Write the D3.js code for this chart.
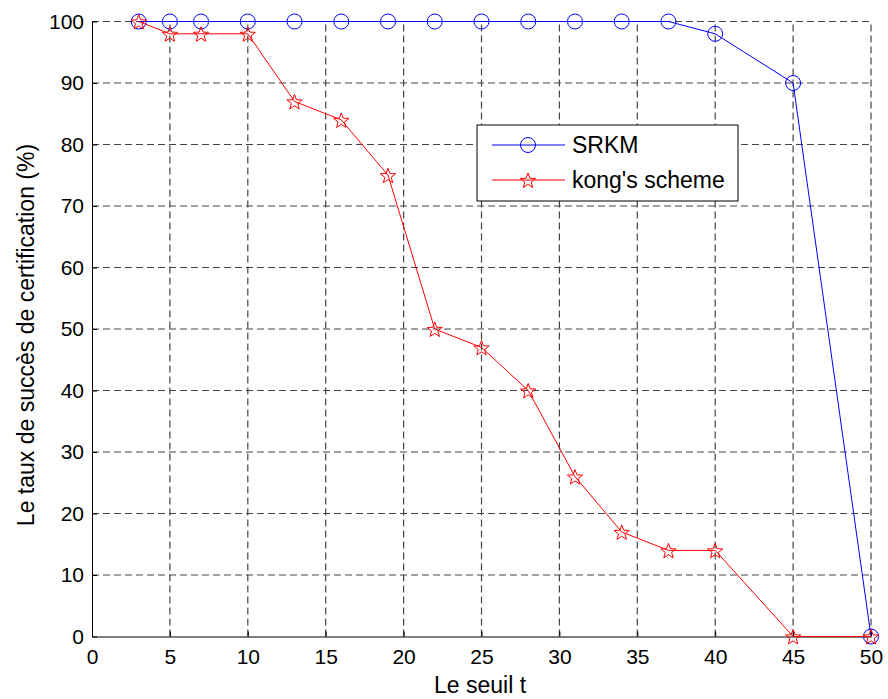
<!DOCTYPE html>
<html>
<head>
<meta charset="utf-8">
<script src="https://cdn.jsdelivr.net/npm/d3@7"></script>
<style>
	body { margin: 0; background: #fff; }
	text { font-family: "Liberation Sans", Arial, sans-serif; }
</style>
</head>
<body>
<svg id="chart" width="888" height="699"></svg>
<script>
var seuils = [3, 5, 7, 10, 13, 16, 19, 22, 25, 28, 31, 34, 37, 40, 45, 50];
var srkm = [100, 100, 100, 100, 100, 100, 100, 100, 100, 100, 100, 100, 100, 98, 90, 0];
var kong = [100, 98, 98, 98, 87, 84, 75, 50, 47, 40, 26, 17, 14, 14, 0, 0];
var xTicks = [0, 5, 10, 15, 20, 25, 30, 35, 40, 45, 50];
var yTicks = [0, 10, 20, 30, 40, 50, 60, 70, 80, 90, 100];
var seriesNames = ["SRKM", "kong's scheme"];

var svg = d3.select("#chart");
var margin = { left: 92, right: 17, top: 21.5, bottom: 62.5 };
var W = 888, H = 699;

var x = d3.scaleLinear().domain([0, 50]).range([margin.left, W - margin.right]);
var y = d3.scaleLinear().domain([0, 100]).range([H - margin.bottom, margin.top]);

// grid
var grid = svg.append("g")
	.attr("stroke", "#444")
	.attr("stroke-width", 1.2)
	.attr("stroke-dasharray", "7,4");
grid.selectAll("line.gx")
	.data(xTicks.slice(1))
	.enter().append("line")
		.attr("x1", function (d) { return x(d); })
		.attr("x2", function (d) { return x(d); })
		.attr("y1", y(0))
		.attr("y2", y(100));
grid.selectAll("line.gy")
	.data(yTicks.slice(1))
	.enter().append("line")
		.attr("x1", x(0))
		.attr("x2", x(50))
		.attr("y1", function (d) { return y(d); })
		.attr("y2", function (d) { return y(d); });

// axes
var xAxis = svg.append("g")
	.attr("transform", "translate(0," + y(0) + ")")
	.call(d3.axisBottom(x).tickValues(xTicks).tickSizeInner(-5).tickSizeOuter(0).tickPadding(13));
var yAxis = svg.append("g")
	.attr("transform", "translate(" + x(0) + ",0)")
	.call(d3.axisLeft(y).tickValues(yTicks).tickSizeInner(-5).tickSizeOuter(0).tickPadding(8));
[xAxis, yAxis].forEach(function (a) {
	a.selectAll("path, line").attr("stroke", "#000");
	a.selectAll("text").attr("font-size", 21).attr("fill", "#000")
		.style("font-family", "'Liberation Sans', Arial, sans-serif");
});
xAxis.selectAll("text").attr("dy", "0.71em");

svg.append("text")
	.attr("x", 480)
	.attr("y", 693)
	.attr("text-anchor", "middle")
	.attr("font-size", 23)
	.text("Le seuil t");
svg.append("text")
	.attr("transform", "translate(34,335) rotate(-90)")
	.attr("text-anchor", "middle")
	.attr("font-size", 23)
	.text("Le taux de succès de certification (%)");

function star(cx, cy, r) {
	var pts = [];
	for (var i = 0; i < 10; i++) {
		var a = -Math.PI / 2 + i * Math.PI / 5;
		var rr = i % 2 === 0 ? r : r * 0.42;
		pts.push([cx + rr * Math.cos(a), cy + rr * Math.sin(a)]);
	}
	return "M" + pts.map(function (p) { return p[0].toFixed(2) + "," + p[1].toFixed(2); }).join("L") + "Z";
}

var line = d3.line()
	.x(function (d) { return x(d[0]); })
	.y(function (d) { return y(d[1]); });

var srkmPts = seuils.map(function (s, i) { return [s, srkm[i]]; });
var kongPts = seuils.map(function (s, i) { return [s, kong[i]]; });

svg.append("path")
	.datum(srkmPts)
	.attr("d", line)
	.attr("fill", "none")
	.attr("stroke", "#0000ff")
	.attr("stroke-width", 1);
svg.append("g").selectAll("circle")
	.data(srkmPts)
	.enter().append("circle")
		.attr("cx", function (d) { return x(d[0]); })
		.attr("cy", function (d) { return y(d[1]); })
		.attr("r", 7.5)
		.attr("fill", "none")
		.attr("stroke", "#0000ff")
		.attr("stroke-width", 1);

svg.append("path")
	.datum(kongPts)
	.attr("d", line)
	.attr("fill", "none")
	.attr("stroke", "#ff0000")
	.attr("stroke-width", 1);
svg.append("g").selectAll("path")
	.data(kongPts)
	.enter().append("path")
		.attr("d", function (d) { return star(x(d[0]), y(d[1]) + 1, 8); })
		.attr("fill", "none")
		.attr("stroke", "#ff0000")
		.attr("stroke-width", 1);

// legend
var lg = svg.append("g").attr("transform", "translate(477,125)");
lg.append("rect")
	.attr("width", 261)
	.attr("height", 76)
	.attr("fill", "#fff")
	.attr("stroke", "#000");
var colors = ["#0000ff", "#ff0000"];
seriesNames.forEach(function (name, i) {
	var ly = 20 + i * 35;
	lg.append("line")
		.attr("x1", 15).attr("x2", 88)
		.attr("y1", ly).attr("y2", ly)
		.attr("stroke", colors[i]);
	if (i === 0) {
		lg.append("circle").attr("cx", 51).attr("cy", ly).attr("r", 7.5)
			.attr("fill", "none").attr("stroke", colors[i]);
	} else {
		lg.append("path").attr("d", star(51, ly + 1, 8))
			.attr("fill", "none").attr("stroke", colors[i]);
	}
	lg.append("text")
		.attr("x", 95)
		.attr("y", ly)
		.attr("dy", "0.35em")
		.attr("font-size", 23)
		.text(name);
});
</script>
</body>
</html>
